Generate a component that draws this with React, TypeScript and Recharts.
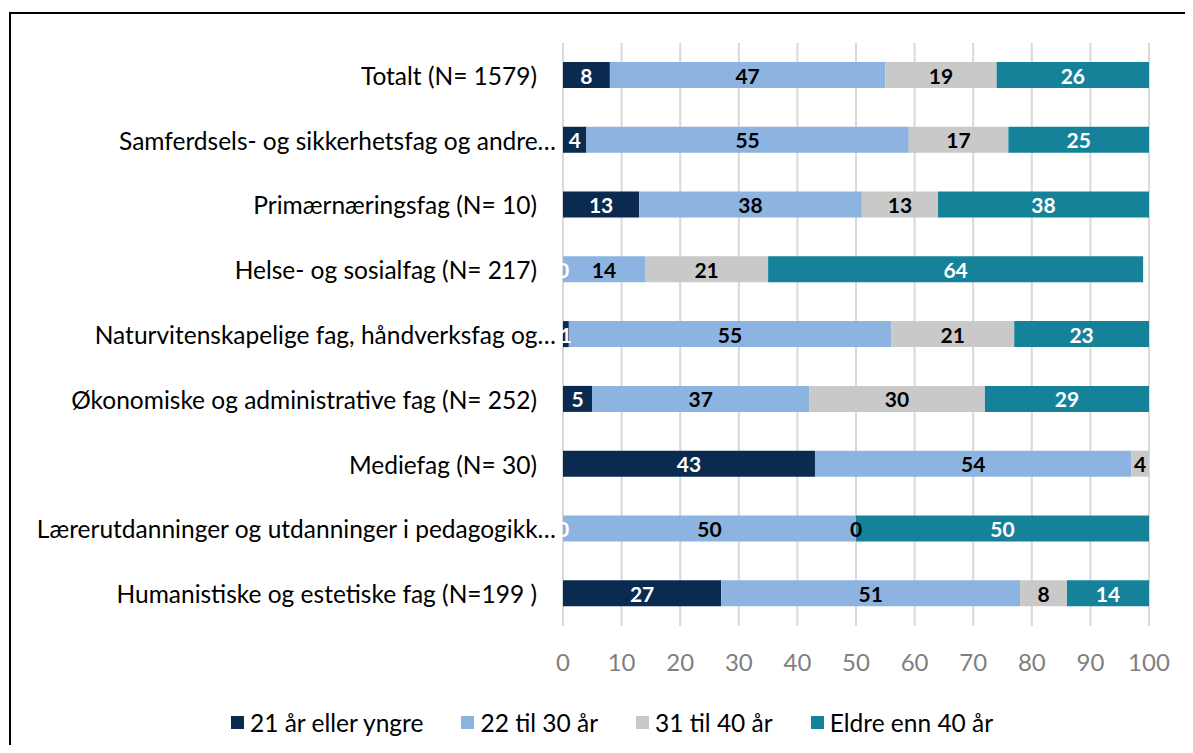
import React from 'react'
import { BarChart, Bar, XAxis, YAxis, CartesianGrid, Legend, LabelList } from 'recharts'

const categories = [
  'Totalt (N= 1579)',
  'Samferdsels- og sikkerhetsfag og andre…',
  'Primærnæringsfag (N= 10)',
  'Helse- og sosialfag (N= 217)',
  'Naturvitenskapelige fag, håndverksfag og…',
  'Økonomiske og administrative fag (N= 252)',
  'Mediefag (N= 30)',
  'Lærerutdanninger og utdanninger i pedagogikk…',
  'Humanistiske og estetiske fag (N=199 )',
]

const age21 = [8, 4, 13, 0, 1, 5, 43, 0, 27]
const age22to30 = [47, 55, 38, 14, 55, 37, 54, 50, 51]
const age31to40 = [19, 17, 13, 21, 21, 30, 4, 0, 8]
const age40plus: (number | null)[] = [26, 25, 38, 64, 23, 29, null, 50, 14]

const xTicks = [0, 10, 20, 30, 40, 50, 60, 70, 80, 90, 100]

const SERIES = [
  { key: 'a', name: '21 år eller yngre', color: '#0b2a50', text: '#ffffff', values: age21 },
  { key: 'b', name: '22 til 30 år', color: '#8db3e0', text: '#000000', values: age22to30 },
  { key: 'c', name: '31 til 40 år', color: '#c9c9c9', text: '#000000', values: age31to40 },
  { key: 'd', name: 'Eldre enn 40 år', color: '#16829a', text: '#ffffff', values: age40plus },
]

const data = categories.map((name, i) => ({
  name,
  a: age21[i],
  b: age22to30[i],
  c: age31to40[i],
  d: age40plus[i],
}))

const FONT = 'Lato, "Open Sans", sans-serif'
const LABEL_STYLE = { fontSize: 21, fontWeight: 700, fontFamily: FONT }

function CategoryTick(props: any) {
  const { x, y, payload } = props
  const txt: string = payload.value
  const shift = txt.endsWith('…') ? 19 : 0
  return (
    <text x={x + shift} y={y} textAnchor="end" dominantBaseline="central" fill="#000" fontSize={24.5} fontFamily={FONT}>
      {txt}
    </text>
  )
}

// the label "value" is the category name, so the row is known even when
// recharts skips empty entries; zero-width segments get no label from
// recharts, so the next segment prints the previous "0" at its left edge
function segmentLabel(si: number) {
  return (props: any) => {
    const vb = props.viewBox ?? props
    const { x, y, width, height } = vb
    const row = categories.indexOf(String(props.value))
    if (row < 0) return <g />
    const s = SERIES[si]
    const prev = si > 0 ? SERIES[si - 1] : null
    const v = s.values[row]
    const out: React.ReactNode[] = []
    if (v != null && width > 0) {
      out.push(
        <text key="v" x={x + width / 2} y={y + height / 2} textAnchor="middle" dominantBaseline="central" fill={s.text} {...LABEL_STYLE}>
          {v}
        </text>
      )
    }
    if (prev && prev.values[row] === 0) {
      out.push(
        <text key="p" x={x} y={y + height / 2} textAnchor="middle" dominantBaseline="central" fill={prev.text} {...LABEL_STYLE}>
          0
        </text>
      )
    }
    return <g>{out}</g>
  }
}

function LegendBox() {
  return (
    <div style={{ height: 30, display: 'flex', alignItems: 'center', paddingLeft: 231, fontFamily: FONT, fontSize: 24.5, color: '#000' }}>
      {SERIES.map((s, i) => (
        <div key={s.key} style={{ display: 'flex', alignItems: 'center', marginRight: i < SERIES.length - 1 ? 38 : 0 }}>
          <span style={{ width: 13, height: 13, background: s.color, display: 'inline-block', marginRight: 6 }} />
          <span>{s.name}</span>
        </div>
      ))}
    </div>
  )
}

export default function App() {
  return (
    <div style={{ position: 'relative', margin: -8, width: 1193, height: 753, overflow: 'hidden', background: '#fff' }}>
      <div style={{ position: 'absolute', left: 9, top: 12, width: 1300, height: 900, border: '2px solid #000', boxSizing: 'border-box' }} />
      <div style={{ position: 'absolute', left: 0, top: 0 }}>
        <BarChart
          width={1193}
          height={753}
          data={data}
          layout="vertical"
          barSize={26}
          margin={{ top: 43, right: 44, bottom: 16, left: 0 }}
        >
          <CartesianGrid horizontal={false} stroke="#d9d9d9" strokeWidth={2} />
          <XAxis
            type="number"
            domain={[0, 100]}
            allowDataOverflow
            ticks={xTicks}
            axisLine={false}
            tickLine={false}
            tickMargin={22}
            height={81}
            tick={{ fill: '#7f7f7f', fontSize: 24, fontFamily: FONT }}
          />
          <YAxis
            type="category"
            dataKey="name"
            width={563}
            axisLine={false}
            tickLine={false}
            tickMargin={20}
            interval={0}
            tick={<CategoryTick />}
          />
          <Legend verticalAlign="bottom" content={() => <LegendBox />} wrapperStyle={{ left: 0, width: 1193 }} />
          {SERIES.map((s, si) => (
            <Bar key={s.key} dataKey={s.key} name={s.name} stackId="s" fill={s.color} isAnimationActive={false}>
              <LabelList valueAccessor={(entry: any) => entry?.payload?.name} content={segmentLabel(si)} />
            </Bar>
          ))}
        </BarChart>
      </div>
    </div>
  )
}
